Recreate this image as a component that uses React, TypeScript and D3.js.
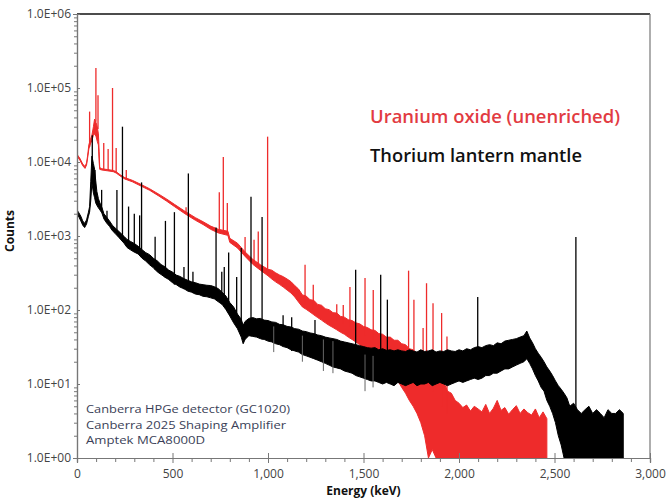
import React, { useEffect, useRef } from "react";
import * as d3 from "d3";

const energyTicks = [0, 500, 1000, 1500, 2000, 2500, 3000];
const countTicks = [1, 10, 100, 1000, 10000, 100000, 1000000];
const legendLabels = ["Uranium oxide (unenriched)", "Thorium lantern mantle"];
const noteLines = [
	"Canberra HPGe detector (GC1020)",
	"Canberra 2025 Shaping Amplifier",
	"Amptek MCA8000D",
];
const noteWidths = [204, 200, 119];

// [energy keV, low counts, high counts] of the noisy continuum
const uraniumBand = [
	[0, 12000, 12700], [15, 10600, 11200], [30, 8900, 9400], [42, 8200, 8700],
	[50, 9100, 9700], [56, 11500, 12400], [62, 15000, 17000], [70, 17500, 20000],
	[78, 19500, 23000], [86, 23000, 30000], [92, 24000, 38000], [100, 22000, 34000],
	[106, 19000, 30000], [112, 17000, 24000], [116, 10000, 14000], [119, 7950, 8400],
	[130, 7800, 8100], [160, 7600, 7900], [190, 7400, 7700], [205, 7100, 7400],
	[225, 6500, 6750], [250, 5900, 6150], [290, 5400, 5650], [330, 4800, 5050],
	[380, 4150, 4350], [430, 3450, 3650], [470, 2950, 3150], [510, 2500, 2680],
	[565, 2000, 2160], [620, 1630, 1770], [660, 1430, 1560], [700, 1230, 1360],
	[740, 1100, 1230], [790, 1020, 1160], [800, 820, 930], [840, 690, 800],
	[880, 530, 610], [920, 415, 485], [960, 345, 410], [1000, 290, 355],
	[1020, 262, 345], [1040, 240, 318], [1060, 222, 298], [1080, 204, 282],
	[1100, 186, 262], [1120, 170, 242], [1140, 150, 214], [1160, 128, 192],
	[1180, 110, 160], [1200, 102, 154], [1220, 94, 138], [1240, 86, 135],
	[1260, 79, 119], [1280, 73, 116], [1300, 67, 104], [1320, 62, 101],
	[1340, 58, 92], [1360, 54, 91], [1380, 50, 82], [1400, 47, 80],
	[1420, 43, 74], [1440, 40, 72], [1460, 37, 67], [1480, 34, 65],
	[1500, 31, 60], [1520, 29, 58], [1540, 26, 54], [1560, 24, 53],
	[1580, 22, 48], [1600, 20, 47], [1620, 18, 43], [1640, 16, 43],
	[1660, 13, 39], [1680, 11, 39], [1700, 9, 35], [1720, 7.5, 34],
	[1740, 6, 30], [1760, 5, 29], [1780, 4, 25], [1800, 3, 24],
	[1820, 2, 20], [1840, 1, 18], [1860, 1.3, 15], [1880, 1, 13.5],
	[1900, 1, 11], [1920, 1, 10.5], [1940, 1, 8], [1960, 1, 7.5],
	[1980, 1, 6], [2000, 1, 5.5], [2020, 1, 4.8], [2040, 1, 5.2],
	[2060, 1, 4.3], [2080, 1, 5], [2100, 1, 4.6], [2120, 1, 4.2],
	[2140, 1, 5.3], [2160, 1, 4], [2180, 1, 4.7], [2200, 1, 6],
	[2220, 1, 4.4], [2240, 1, 4.8], [2260, 1, 3.9], [2280, 1, 4.5],
	[2300, 1, 5.1], [2320, 1, 4], [2340, 1, 4.6], [2360, 1, 4.1],
	[2380, 1, 3.8], [2400, 1, 4.6], [2420, 1, 3.5], [2440, 1, 4.2],
	[2460, 1, 3.4],
];

// [energy keV, base counts, top counts]
const uraniumPeaks = [
	[66, 16000, 48000], [99, 35000, 186000], [110, 28000, 80000], [140, 7800, 18000],
	[163, 7600, 15000], [186, 7400, 100000], [205, 7200, 15500], [258, 5800, 7800],
	[571, 2000, 2450], [745, 1150, 3900], [766, 1100, 11700], [787, 1050, 2800],
	[880, 560, 970], [927, 440, 890], [949, 380, 1150], [998, 320, 22000],
	[1194, 120, 410], [1237, 100, 220], [1360, 70, 120], [1394, 65, 117],
	[1429, 60, 205], [1508, 45, 270], [1551, 40, 186], [1736, 20, 340],
	[1764, 18, 138], [1812, 12, 57], [1830, 12, 230], [1864, 8, 123],
	[1909, 5, 91], [1937, 4, 44],
];

const thoriumBand = [
	[0, 1950, 2250], [10, 1800, 2050], [20, 1600, 1850], [30, 1400, 1600],
	[40, 1300, 1480], [50, 1450, 1650], [60, 1850, 2100], [66, 2100, 2500],
	[72, 3000, 5500], [78, 5200, 12000], [86, 3800, 9500], [92, 3300, 8000],
	[98, 2800, 5600], [104, 2600, 4000], [112, 2400, 3200], [120, 2250, 2800],
	[130, 2050, 2450], [141, 1700, 2000], [155, 1500, 1800], [170, 1350, 1600],
	[185, 1180, 1400], [200, 1080, 1280], [220, 950, 1150], [246, 800, 990],
	[262, 700, 900], [280, 650, 845], [300, 605, 792], [320, 572, 728],
	[340, 502, 655], [360, 458, 596], [380, 408, 560], [400, 372, 500],
	[420, 328, 462], [440, 302, 412], [460, 278, 384], [480, 258, 346],
	[500, 234, 325], [520, 220, 296], [540, 203, 284], [560, 194, 265],
	[580, 180, 252], [600, 174, 240], [620, 164, 234], [640, 161, 224],
	[660, 153, 220], [680, 151, 216], [700, 146, 214], [720, 141, 206],
	[740, 129, 194], [760, 119, 174], [780, 101, 154], [800, 83, 126],
	[820, 67, 110], [840, 56, 88], [860, 43, 75], [870, 35, 62],
	[880, 40, 70], [900, 45, 77], [920, 44, 79], [940, 43, 76],
	[960, 41, 77], [980, 40, 73], [1000, 38, 72], [1020, 37, 69],
	[1040, 35, 68], [1060, 34, 64], [1080, 32, 63], [1100, 31, 60],
	[1120, 29, 59], [1140, 28, 56], [1160, 27, 55], [1180, 25, 52],
	[1200, 24, 51], [1220, 23, 49], [1240, 22, 48], [1260, 21, 46],
	[1280, 20, 45], [1300, 19, 43], [1320, 18, 42], [1340, 17, 41],
	[1360, 16.5, 40], [1380, 16, 38], [1400, 15, 37], [1420, 14.5, 36],
	[1440, 14, 35], [1460, 13, 34], [1480, 12.5, 33], [1500, 12, 32],
	[1520, 11.5, 31], [1540, 11, 30.5], [1560, 11, 31], [1580, 10.5, 29],
	[1600, 10, 30], [1620, 10.5, 28.5], [1640, 10, 29], [1660, 9.5, 28],
	[1680, 10.5, 29], [1700, 10, 28], [1720, 9.5, 27.5], [1740, 10, 29],
	[1760, 10.5, 28], [1780, 9.5, 27], [1800, 10, 29], [1820, 10, 27.5],
	[1840, 10.5, 28], [1860, 9.5, 29], [1880, 10, 27], [1900, 10.5, 28],
	[1920, 10, 27.5], [1940, 9.5, 29], [1960, 10, 28], [1980, 10.5, 27.5],
	[2000, 11, 29], [2020, 10.5, 28], [2040, 11, 30], [2060, 11.5, 29],
	[2080, 12, 31], [2100, 11.5, 32], [2120, 12, 31], [2140, 13, 33],
	[2160, 13, 34], [2180, 14, 33], [2200, 14, 36], [2220, 15, 35],
	[2240, 16, 38], [2260, 16, 39], [2280, 17, 40], [2300, 18, 41],
	[2320, 19, 43], [2340, 20, 45], [2355, 22, 52], [2370, 19, 42],
	[2385, 16, 36], [2400, 13, 30], [2415, 11, 26], [2430, 9, 23],
	[2445, 8, 20], [2460, 6, 17], [2475, 5, 15], [2490, 4, 13],
	[2505, 3, 11], [2520, 2, 9.5], [2535, 1.5, 8.5], [2550, 1, 7.5],
	[2565, 1, 6.5], [2580, 1, 5], [2600, 1, 5.5], [2620, 1, 4.5],
	[2640, 1, 4], [2660, 1, 4.5], [2680, 1, 5], [2700, 1, 4],
	[2720, 1, 4.5], [2740, 1, 4], [2760, 1, 3.5], [2780, 1, 4.5],
	[2800, 1, 4], [2820, 1, 4], [2840, 1, 4.5], [2860, 1, 4],
];

const thoriumPeaks = [
	[80, 9000, 23000], [94, 5000, 7800], [129, 2300, 4200], [157, 1550, 2200],
	[209, 1100, 4200], [238, 850, 30000], [270, 680, 2500], [300, 620, 2000],
	[328, 540, 1900], [338, 520, 5300], [409, 350, 980], [463, 270, 1600],
	[510, 220, 2100], [560, 190, 380], [583, 180, 7000], [607, 170, 330],
	[728, 140, 1300], [758, 120, 330], [771, 110, 380], [794, 90, 600],
	[836, 60, 280], [860, 45, 690], [911, 45, 3400], [969, 40, 1800],
	[1079, 32, 85], [1124, 28, 80], [1246, 22, 73], [1459, 14, 350],
	[1590, 12, 300], [1625, 11, 138], [2098, 12, 150], [2612, 1, 970],
];

// stray single-channel excursions of the thorium trace, drawn in grey
const thoriumOutliers = [
	[1290, 15, 40], [1340, 14, 38], [1508, 8, 25], [1550, 9, 24],
	[1030, 27, 60], [1180, 20, 45],
];

const W = 667;
const H = 499;
const margin = { top: 14, right: 17, bottom: 41, left: 77 };
const innerW = W - margin.left - margin.right;
const innerH = H - margin.top - margin.bottom;

const RED = "#ee2b2b";
const font = "'Open Sans', 'Noto Sans', sans-serif";

const SpectrumChart = () => {
	const ref = useRef<SVGSVGElement>(null);

	useEffect(() => {
		const svg = d3.select(ref.current);
		svg.selectAll("*").remove();

		const x = d3.scaleLinear().domain([0, 3000]).range([0, innerW]);
		const y = d3.scaleLog().domain([1, 1e6]).range([innerH, 0]);

		const g = svg
			.append("g")
			.attr("transform", `translate(${margin.left}, ${margin.top})`);

		g.append("clipPath")
			.attr("id", "plot-clip")
			.append("rect")
			.attr("width", innerW)
			.attr("height", innerH);

		const plot = g.append("g").attr("clip-path", "url(#plot-clip)");

		const band = d3
			.area<number[]>()
			.x((d) => x(d[0]))
			.y0((d) => y(d[1]))
			.y1((d) => y(d[2]));

		const drawSpikes = (peaks, color, width) => {
			plot.selectAll(null)
				.data(peaks)
				.enter()
				.append("line")
				.attr("x1", (d) => x(d[0]))
				.attr("x2", (d) => x(d[0]))
				.attr("y1", (d) => y(d[1]))
				.attr("y2", (d) => y(d[2]))
				.attr("stroke", color)
				.attr("stroke-width", width);
		};

		const drawSeries = (data, peaks, color) => {
			plot.append("path")
				.datum(data)
				.attr("d", band)
				.attr("fill", color)
				.attr("stroke", color)
				.attr("stroke-width", 1)
				.attr("stroke-linejoin", "round");
			drawSpikes(peaks, color, 1.3);
		};

		drawSeries(uraniumBand, uraniumPeaks, RED);
		drawSeries(thoriumBand, thoriumPeaks, "#000");
		drawSpikes(thoriumOutliers, "#666", 1);

		// frame: dark top line, grey right side
		g.append("line")
			.attr("x1", 0)
			.attr("x2", innerW)
			.attr("y1", 0)
			.attr("y2", 0)
			.attr("stroke", "#111")
			.attr("stroke-width", 1.4);
		g.append("line")
			.attr("x1", innerW)
			.attr("x2", innerW)
			.attr("y1", 0)
			.attr("y2", innerH)
			.attr("stroke", "#777")
			.attr("stroke-width", 1.2);

		// y axis: minor ticks then labelled decades
		const minorCounts = [];
		countTicks.slice(0, -1).forEach((c) => {
			for (let k = 2; k < 10; k++) minorCounts.push(c * k);
		});
		const yMinor = g.append("g").call(
			d3.axisLeft(y).tickValues(minorCounts).tickSize(3).tickFormat(() => "")
		);
		const yAxis = g.append("g").call(
			d3
				.axisLeft(y)
				.tickValues(countTicks)
				.tickSize(4)
				.tickPadding(2)
				.tickFormat((d) => d3.format(".1e")(d).toUpperCase().replace(/E\+(\d)$/, "E+0$1"))
		);
		yAxis.selectAll(".tick line").attr("x2", 3);

		// x axis: minor every 100 keV, major every 500 keV
		const minorEnergy = d3.range(100, 3000, 100).filter((e) => e % 500 !== 0);
		const xMinor = g.append("g")
			.attr("transform", `translate(0, ${innerH})`)
			.call(d3.axisBottom(x).tickValues(minorEnergy).tickSize(4).tickFormat(() => ""));
		const xAxis = g.append("g")
			.attr("transform", `translate(0, ${innerH})`)
			.call(
				d3
					.axisBottom(x)
					.tickValues(energyTicks)
					.tickSize(5)
					.tickPadding(6)
					.tickFormat(d3.format(","))
			);
		xAxis.selectAll(".tick line").attr("y1", -5);

		[yMinor, yAxis, xMinor, xAxis].forEach((a) => {
			a.select(".domain").attr("stroke", "#777").attr("stroke-width", 1.2);
			a.selectAll(".tick line").attr("stroke", "#777");
			a.selectAll("text")
				.attr("fill", "#444")
				.style("font-family", font)
				.style("font-size", "12px");
		});

		// axis titles
		g.append("text")
			.attr("transform", `translate(${14 - margin.left}, ${231 - margin.top}) rotate(-90)`)
			.attr("text-anchor", "middle")
			.style("font-family", font)
			.style("font-size", "12px")
			.style("font-weight", 700)
			.attr("fill", "#111")
			.text("Counts");
		g.append("text")
			.attr("x", x(1500))
			.attr("y", innerH + 37)
			.attr("text-anchor", "middle")
			.style("font-family", font)
			.style("font-size", "12px")
			.style("font-weight", 700)
			.attr("fill", "#111")
			.text("Energy (keV)");

		// legend
		const legendColors = ["#e23b42", "#111"];
		legendLabels.forEach((label, i) => {
			g.append("text")
				.attr("x", 370 - margin.left)
				.attr("y", 123 - margin.top + i * 39)
				.attr("textLength", i === 0 ? 250 : 212)
				.attr("lengthAdjust", "spacingAndGlyphs")
				.style("font-family", font)
				.style("font-size", "18px")
				.style("font-weight", 600)
				.attr("fill", legendColors[i])
				.text(label);
		});

		// instrument notes
		noteLines.forEach((line, i) => {
			g.append("text")
				.attr("x", 86 - margin.left)
				.attr("y", 413 - margin.top + i * 15.5)
				.attr("textLength", noteWidths[i])
				.attr("lengthAdjust", "spacingAndGlyphs")
				.style("font-family", font)
				.style("font-size", "11px")
				.attr("fill", "#3b3f58")
				.text(line);
		});
	}, []);

	return <svg ref={ref} width={W} height={H} style={{ display: "block" }} />;
};

export default function App() {
	return (
		<div style={{ position: "absolute", left: 0, top: 0, background: "#fff" }}>
			<SpectrumChart />
		</div>
	);
}
